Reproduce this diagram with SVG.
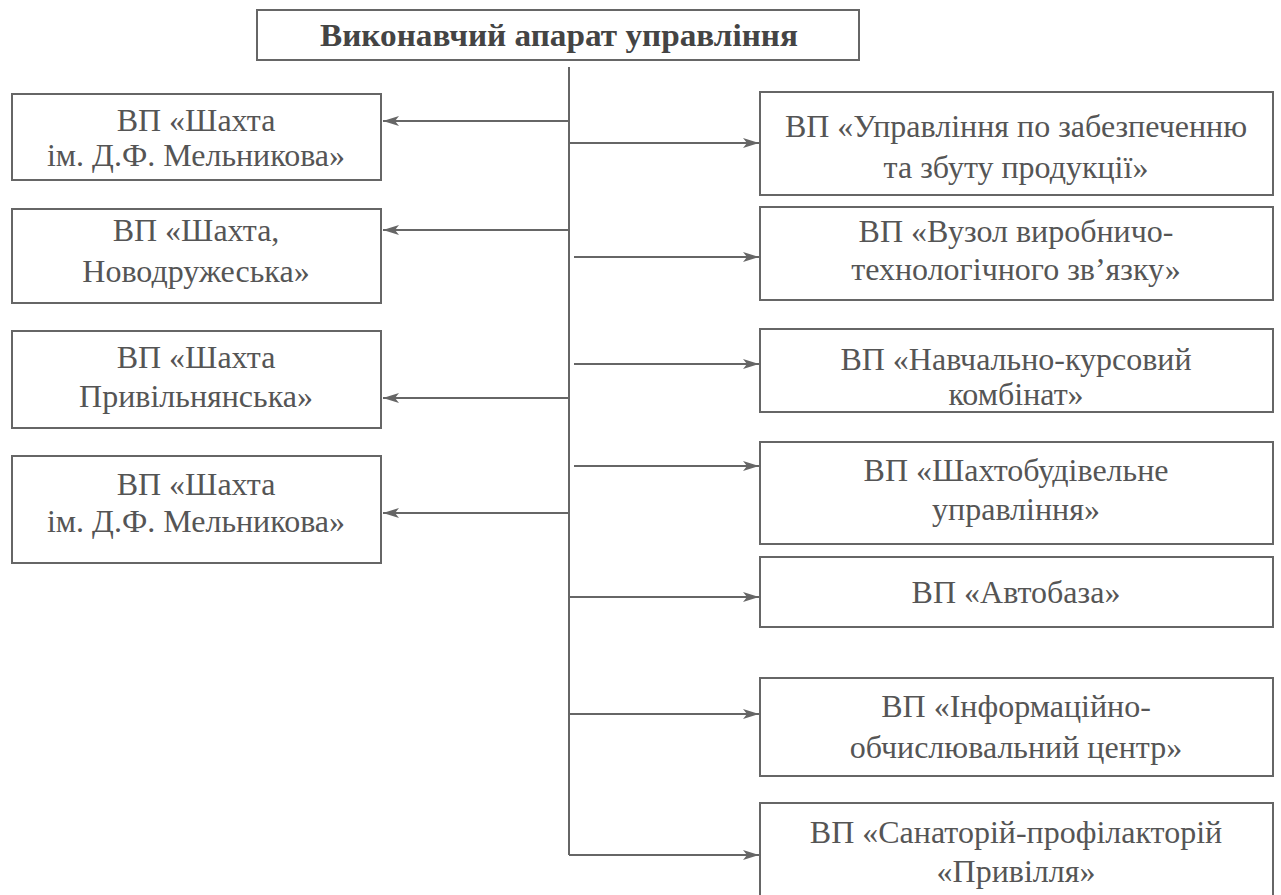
<svg xmlns="http://www.w3.org/2000/svg" width="1281" height="895" viewBox="0 0 1281 895">
<style>
.box{fill:#fff;stroke:#666;stroke-width:2}
.t{font-family:"Liberation Serif","Times New Roman",serif;font-size:32px;fill:#555;text-anchor:middle}
.tb{font-family:"Liberation Serif","Times New Roman",serif;font-size:31px;font-weight:bold;fill:#444;text-anchor:middle}
.c{stroke:#666;stroke-width:2;fill:none}
</style>
<defs>
<marker id="ah" viewBox="0 0 16 12" refX="16" refY="6" markerWidth="16" markerHeight="12" markerUnits="userSpaceOnUse" orient="auto">
<path d="M0,1 L16,6 L0,11 L4,6 Z" fill="#666"/>
</marker>
</defs>
<rect width="1281" height="895" fill="#fff"/>
<g id="top">
<rect class="box" x="257" y="10" width="602" height="50"/>
<text class="tb" x="559" y="46" textLength="478" lengthAdjust="spacingAndGlyphs">Виконавчий апарат управління</text>
</g>
<g id="connectors">
<line class="c" x1="569" y1="67" x2="569" y2="855"/>
<line class="c" x1="569" y1="121" x2="383" y2="121" marker-end="url(#ah)"/>
<line class="c" x1="569" y1="230" x2="383" y2="230" marker-end="url(#ah)"/>
<line class="c" x1="569" y1="398" x2="383" y2="398" marker-end="url(#ah)"/>
<line class="c" x1="569" y1="513" x2="383" y2="513" marker-end="url(#ah)"/>
<line class="c" x1="569" y1="143" x2="759" y2="143" marker-end="url(#ah)"/>
<line class="c" x1="574" y1="257" x2="759" y2="257" marker-end="url(#ah)"/>
<line class="c" x1="574" y1="364" x2="759" y2="364" marker-end="url(#ah)"/>
<line class="c" x1="574" y1="466" x2="759" y2="466" marker-end="url(#ah)"/>
<line class="c" x1="569" y1="597" x2="759" y2="597" marker-end="url(#ah)"/>
<line class="c" x1="569" y1="714" x2="759" y2="714" marker-end="url(#ah)"/>
<line class="c" x1="569" y1="855" x2="759" y2="855" marker-end="url(#ah)"/>
</g>
<g id="left1">
<rect class="box" x="12" y="94" width="369" height="86"/>
<text class="t" x="196" y="131">ВП «Шахта</text>
<text class="t" x="196" y="166">ім. Д.Ф. Мельникова»</text>
</g>
<g id="left2">
<rect class="box" x="12" y="209" width="369" height="94"/>
<text class="t" x="196" y="241">ВП «Шахта,</text>
<text class="t" x="196" y="282">Новодружеська»</text>
</g>
<g id="left3">
<rect class="box" x="12" y="331" width="369" height="97"/>
<text class="t" x="196" y="368">ВП «Шахта</text>
<text class="t" x="196" y="407">Привільнянська»</text>
</g>
<g id="left4">
<rect class="box" x="12" y="456" width="369" height="107"/>
<text class="t" x="196" y="495">ВП «Шахта</text>
<text class="t" x="196" y="532">ім. Д.Ф. Мельникова»</text>
</g>
<g id="right1">
<rect class="box" x="760" y="92" width="513" height="103"/>
<text class="t" x="1016" y="137">ВП «Управління по забезпеченню</text>
<text class="t" x="1016" y="178">та збуту продукції»</text>
</g>
<g id="right2">
<rect class="box" x="760" y="207" width="513" height="93"/>
<text class="t" x="1016" y="242">ВП «Вузол виробничо-</text>
<text class="t" x="1016" y="280">технологічного зв’язку»</text>
</g>
<g id="right3">
<rect class="box" x="760" y="329" width="513" height="83"/>
<text class="t" x="1016" y="370">ВП «Навчально-курсовий</text>
<text class="t" x="1016" y="405">комбінат»</text>
</g>
<g id="right4">
<rect class="box" x="760" y="442" width="513" height="102"/>
<text class="t" x="1016" y="481">ВП «Шахтобудівельне</text>
<text class="t" x="1016" y="520">управління»</text>
</g>
<g id="right5">
<rect class="box" x="760" y="557" width="513" height="70"/>
<text class="t" x="1016" y="603">ВП «Автобаза»</text>
</g>
<g id="right6">
<rect class="box" x="760" y="678" width="513" height="98"/>
<text class="t" x="1016" y="717">ВП «Інформаційно-</text>
<text class="t" x="1016" y="758">обчислювальний центр»</text>
</g>
<g id="right7">
<rect class="box" x="760" y="803" width="513" height="100"/>
<text class="t" x="1016" y="843">ВП «Санаторій-профілакторій</text>
<text class="t" x="1016" y="882">«Привілля»</text>
</g>
</svg>
